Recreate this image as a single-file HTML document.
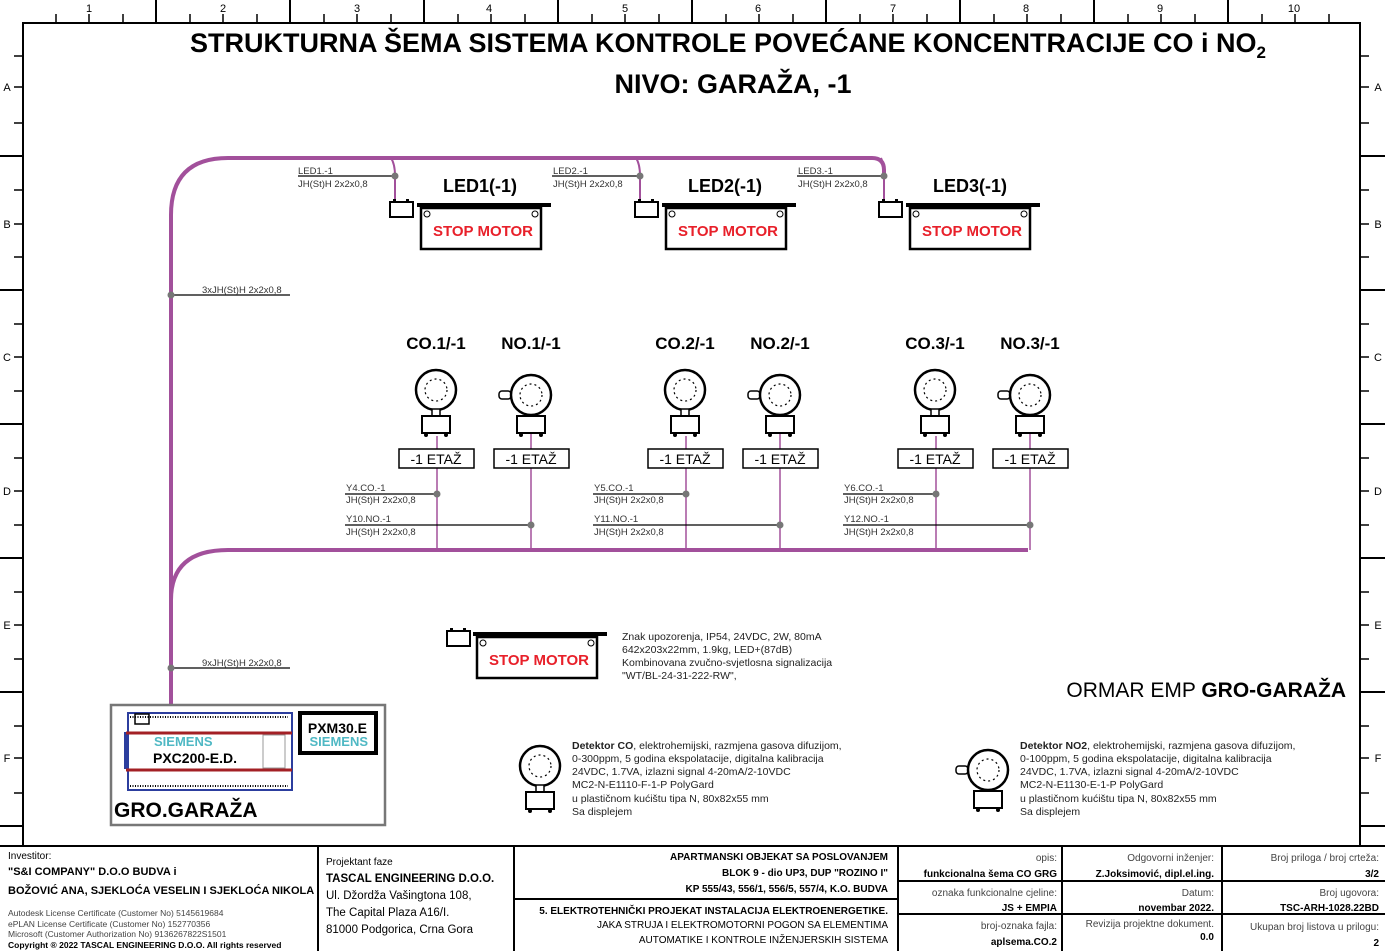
<!DOCTYPE html>
<html><head><meta charset="utf-8"><style>
html,body{margin:0;padding:0;background:#fff}
svg{display:block}
text{font-family:"Liberation Sans",sans-serif}
</style></head><body>
<svg width="1385" height="951" viewBox="0 0 1385 951" xmlns="http://www.w3.org/2000/svg">
<defs>
<g id="co">
<circle cx="0" cy="0" r="20" fill="#fff" stroke="#000" stroke-width="2.5"/>
<circle cx="0" cy="0" r="11" fill="none" stroke="#000" stroke-width="1.2" stroke-dasharray="2,3"/>
<rect x="-4" y="19" width="8" height="8" fill="#fff" stroke="#000" stroke-width="1.5"/>
<rect x="-14" y="26" width="28" height="17" fill="#fff" stroke="#000" stroke-width="2"/>
<circle cx="-10" cy="45" r="2" fill="#000"/><circle cx="10" cy="45" r="2" fill="#000"/>
</g>
<g id="no">
<rect x="-32" y="-4" width="12" height="8" rx="3" fill="#fff" stroke="#000" stroke-width="1.5"/>
<circle cx="0" cy="0" r="20" fill="#fff" stroke="#000" stroke-width="2.5"/>
<circle cx="0" cy="0" r="11" fill="none" stroke="#000" stroke-width="1.2" stroke-dasharray="2,3"/>
<rect x="-14" y="21" width="28" height="17" fill="#fff" stroke="#000" stroke-width="2"/>
<circle cx="-10" cy="40" r="2" fill="#000"/><circle cx="10" cy="40" r="2" fill="#000"/>
</g>
<g id="sign">
<rect x="0" y="0" width="134" height="4" fill="#000"/>
<rect x="4" y="5" width="120" height="41" fill="#fff" stroke="#000" stroke-width="2.5"/>
<circle cx="10" cy="11" r="3" fill="none" stroke="#000"/><circle cx="118" cy="11" r="3" fill="none" stroke="#000"/>
<text x="66" y="33" font-size="15" font-weight="bold" fill="#e8202a" text-anchor="middle">STOP MOTOR</text>
</g>
<g id="batt">
<rect x="0" y="0" width="23" height="15" fill="#fff" stroke="#000" stroke-width="2"/>
<rect x="3" y="-3" width="3" height="3" fill="#000"/><rect x="16" y="-3" width="3" height="3" fill="#000"/>
</g>
</defs>

<!-- frame -->
<rect x="23" y="23" width="1337" height="823" fill="none" stroke="#000" stroke-width="2"/>
<g stroke="#000" stroke-width="1.5">
<line x1="156" y1="0" x2="156" y2="23" stroke-width="2"/><line x1="290" y1="0" x2="290" y2="23" stroke-width="2"/>
<line x1="424" y1="0" x2="424" y2="23" stroke-width="2"/><line x1="558" y1="0" x2="558" y2="23" stroke-width="2"/>
<line x1="692" y1="0" x2="692" y2="23" stroke-width="2"/><line x1="826" y1="0" x2="826" y2="23" stroke-width="2"/>
<line x1="960" y1="0" x2="960" y2="23" stroke-width="2"/><line x1="1094" y1="0" x2="1094" y2="23" stroke-width="2"/>
<line x1="1228" y1="0" x2="1228" y2="23" stroke-width="2"/>
<line x1="56" y1="14" x2="56" y2="23"/><line x1="89" y1="14" x2="89" y2="23"/><line x1="123" y1="14" x2="123" y2="23"/>
<line x1="190" y1="14" x2="190" y2="23"/><line x1="223" y1="14" x2="223" y2="23"/><line x1="257" y1="14" x2="257" y2="23"/>
<line x1="324" y1="14" x2="324" y2="23"/><line x1="357" y1="14" x2="357" y2="23"/><line x1="391" y1="14" x2="391" y2="23"/>
<line x1="458" y1="14" x2="458" y2="23"/><line x1="491" y1="14" x2="491" y2="23"/><line x1="525" y1="14" x2="525" y2="23"/>
<line x1="592" y1="14" x2="592" y2="23"/><line x1="625" y1="14" x2="625" y2="23"/><line x1="659" y1="14" x2="659" y2="23"/>
<line x1="726" y1="14" x2="726" y2="23"/><line x1="759" y1="14" x2="759" y2="23"/><line x1="793" y1="14" x2="793" y2="23"/>
<line x1="860" y1="14" x2="860" y2="23"/><line x1="893" y1="14" x2="893" y2="23"/><line x1="927" y1="14" x2="927" y2="23"/>
<line x1="994" y1="14" x2="994" y2="23"/><line x1="1027" y1="14" x2="1027" y2="23"/><line x1="1061" y1="14" x2="1061" y2="23"/>
<line x1="1128" y1="14" x2="1128" y2="23"/><line x1="1161" y1="14" x2="1161" y2="23"/><line x1="1195" y1="14" x2="1195" y2="23"/>
<line x1="1262" y1="14" x2="1262" y2="23"/><line x1="1295" y1="14" x2="1295" y2="23"/><line x1="1329" y1="14" x2="1329" y2="23"/>
<!-- left/right ticks -->
<line x1="0" y1="156" x2="23" y2="156" stroke-width="2"/><line x1="0" y1="290" x2="23" y2="290" stroke-width="2"/>
<line x1="0" y1="424" x2="23" y2="424" stroke-width="2"/><line x1="0" y1="558" x2="23" y2="558" stroke-width="2"/>
<line x1="0" y1="692" x2="23" y2="692" stroke-width="2"/><line x1="0" y1="826" x2="23" y2="826" stroke-width="2"/>
<line x1="1360" y1="156" x2="1385" y2="156" stroke-width="2"/><line x1="1360" y1="290" x2="1385" y2="290" stroke-width="2"/>
<line x1="1360" y1="424" x2="1385" y2="424" stroke-width="2"/><line x1="1360" y1="558" x2="1385" y2="558" stroke-width="2"/>
<line x1="1360" y1="692" x2="1385" y2="692" stroke-width="2"/><line x1="1360" y1="826" x2="1385" y2="826" stroke-width="2"/>
<line x1="14" y1="56" x2="23" y2="56"/><line x1="14" y1="87" x2="23" y2="87"/><line x1="14" y1="123" x2="23" y2="123"/>
<line x1="14" y1="190" x2="23" y2="190"/><line x1="14" y1="224" x2="23" y2="224"/><line x1="14" y1="257" x2="23" y2="257"/>
<line x1="14" y1="324" x2="23" y2="324"/><line x1="14" y1="357" x2="23" y2="357"/><line x1="14" y1="391" x2="23" y2="391"/>
<line x1="14" y1="458" x2="23" y2="458"/><line x1="14" y1="491" x2="23" y2="491"/><line x1="14" y1="525" x2="23" y2="525"/>
<line x1="14" y1="592" x2="23" y2="592"/><line x1="14" y1="625" x2="23" y2="625"/><line x1="14" y1="659" x2="23" y2="659"/>
<line x1="14" y1="726" x2="23" y2="726"/><line x1="14" y1="758" x2="23" y2="758"/><line x1="14" y1="793" x2="23" y2="793"/>
<line x1="1360" y1="56" x2="1369" y2="56"/><line x1="1360" y1="87" x2="1369" y2="87"/><line x1="1360" y1="123" x2="1369" y2="123"/>
<line x1="1360" y1="190" x2="1369" y2="190"/><line x1="1360" y1="224" x2="1369" y2="224"/><line x1="1360" y1="257" x2="1369" y2="257"/>
<line x1="1360" y1="324" x2="1369" y2="324"/><line x1="1360" y1="357" x2="1369" y2="357"/><line x1="1360" y1="391" x2="1369" y2="391"/>
<line x1="1360" y1="458" x2="1369" y2="458"/><line x1="1360" y1="491" x2="1369" y2="491"/><line x1="1360" y1="525" x2="1369" y2="525"/>
<line x1="1360" y1="592" x2="1369" y2="592"/><line x1="1360" y1="625" x2="1369" y2="625"/><line x1="1360" y1="659" x2="1369" y2="659"/>
<line x1="1360" y1="726" x2="1369" y2="726"/><line x1="1360" y1="758" x2="1369" y2="758"/><line x1="1360" y1="793" x2="1369" y2="793"/>
</g>
<g font-size="11" text-anchor="middle" fill="#000">
<text x="89" y="12">1</text><text x="223" y="12">2</text><text x="357" y="12">3</text><text x="489" y="12">4</text><text x="625" y="12">5</text>
<text x="758" y="12">6</text><text x="893" y="12">7</text><text x="1026" y="12">8</text><text x="1160" y="12">9</text><text x="1294" y="12">10</text>
<text x="7" y="91">A</text><text x="7" y="228">B</text><text x="7" y="361">C</text><text x="7" y="495">D</text><text x="7" y="629">E</text><text x="7" y="762">F</text>
<text x="1378" y="91">A</text><text x="1378" y="228">B</text><text x="1378" y="361">C</text><text x="1378" y="495">D</text><text x="1378" y="629">E</text><text x="1378" y="762">F</text>
</g>

<!-- titles -->
<text x="728" y="52" font-size="27" font-weight="bold" text-anchor="middle">STRUKTURNA ŠEMA SISTEMA KONTROLE POVEĆANE KONCENTRACIJE CO i NO<tspan font-size="17" dy="6">2</tspan></text>
<text x="733" y="93" font-size="27" font-weight="bold" text-anchor="middle">NIVO: GARAŽA, -1</text>

<!-- magenta bus -->
<g fill="none" stroke="#a2509b">
<path d="M171,706 V215 Q171,158 228,158 H872 Q884,158 884,170 V176" stroke-width="4"/>
<path d="M171,600 Q171,550 228,550 H1028" stroke-width="4"/>
<path d="M391,158 Q395,164 395,176 V201" stroke-width="2"/>
<path d="M636,158 Q640,164 640,176 V201" stroke-width="2"/>
<path d="M881,158 Q884,164 884,176 V201" stroke-width="2"/>
<g stroke-width="1.5">
<line x1="437" y1="436" x2="437" y2="550"/><line x1="531" y1="433" x2="531" y2="550"/>
<line x1="686" y1="436" x2="686" y2="550"/><line x1="780" y1="433" x2="780" y2="550"/>
<line x1="936" y1="436" x2="936" y2="550"/><line x1="1030" y1="433" x2="1030" y2="550"/>
</g>
</g>

<!-- cable labels -->
<g stroke="#000" stroke-width="1.2">
<line x1="298" y1="176" x2="395" y2="176"/><line x1="552" y1="176" x2="640" y2="176"/><line x1="797" y1="176" x2="884" y2="176"/>
<line x1="171" y1="295" x2="290" y2="295"/><line x1="171" y1="668" x2="290" y2="668"/>
<line x1="345" y1="494" x2="437" y2="494"/><line x1="345" y1="525" x2="531" y2="525"/>
<line x1="593" y1="494" x2="686" y2="494"/><line x1="593" y1="525" x2="780" y2="525"/>
<line x1="843" y1="494" x2="936" y2="494"/><line x1="843" y1="525" x2="1030" y2="525"/>
</g>
<g fill="#777">
<circle cx="395" cy="176" r="3.5"/><circle cx="640" cy="176" r="3.5"/><circle cx="884" cy="176" r="3.5"/>
<circle cx="171" cy="295" r="3.5"/><circle cx="171" cy="668" r="3.5"/>
<circle cx="437" cy="494" r="3.5"/><circle cx="531" cy="525" r="3.5"/>
<circle cx="686" cy="494" r="3.5"/><circle cx="780" cy="525" r="3.5"/>
<circle cx="936" cy="494" r="3.5"/><circle cx="1030" cy="525" r="3.5"/>
</g>
<g font-size="9.5" fill="#333">
<text x="298" y="174">LED1.-1</text><text x="298" y="187">JH(St)H 2x2x0,8</text>
<text x="553" y="174">LED2.-1</text><text x="553" y="187">JH(St)H 2x2x0,8</text>
<text x="798" y="174">LED3.-1</text><text x="798" y="187">JH(St)H 2x2x0,8</text>
<text x="202" y="293">3xJH(St)H 2x2x0,8</text><text x="202" y="666">9xJH(St)H 2x2x0,8</text>
<text x="346" y="491">Y4.CO.-1</text><text x="346" y="503">JH(St)H 2x2x0,8</text>
<text x="346" y="522">Y10.NO.-1</text><text x="346" y="535">JH(St)H 2x2x0,8</text>
<text x="594" y="491">Y5.CO.-1</text><text x="594" y="503">JH(St)H 2x2x0,8</text>
<text x="594" y="522">Y11.NO.-1</text><text x="594" y="535">JH(St)H 2x2x0,8</text>
<text x="844" y="491">Y6.CO.-1</text><text x="844" y="503">JH(St)H 2x2x0,8</text>
<text x="844" y="522">Y12.NO.-1</text><text x="844" y="535">JH(St)H 2x2x0,8</text>
</g>

<!-- LEDs -->
<g font-size="18" font-weight="bold" text-anchor="middle">
<text x="480" y="192">LED1(-1)</text><text x="725" y="192">LED2(-1)</text><text x="970" y="192">LED3(-1)</text>
</g>
<use href="#batt" x="390" y="202"/><use href="#sign" x="417" y="203"/>
<use href="#batt" x="635" y="202"/><use href="#sign" x="662" y="203"/>
<use href="#batt" x="879" y="202"/><use href="#sign" x="906" y="203"/>

<!-- sensors -->
<g font-size="17" font-weight="bold" text-anchor="middle">
<text x="436" y="349">CO.1/-1</text><text x="531" y="349">NO.1/-1</text>
<text x="685" y="349">CO.2/-1</text><text x="780" y="349">NO.2/-1</text>
<text x="935" y="349">CO.3/-1</text><text x="1030" y="349">NO.3/-1</text>
</g>
<use href="#co" x="436" y="390"/><use href="#no" x="531" y="395"/>
<use href="#co" x="685" y="390"/><use href="#no" x="780" y="395"/>
<use href="#co" x="935" y="390"/><use href="#no" x="1030" y="395"/>
<g fill="#fff" stroke="#000" stroke-width="1.5">
<rect x="399" y="449" width="75" height="19"/><rect x="494" y="449" width="75" height="19"/>
<rect x="648" y="449" width="75" height="19"/><rect x="743" y="449" width="75" height="19"/>
<rect x="898" y="449" width="75" height="19"/><rect x="993" y="449" width="75" height="19"/>
</g>
<g font-size="14" text-anchor="middle">
<text x="436" y="464">-1 ETAŽ</text><text x="531" y="464">-1 ETAŽ</text>
<text x="685" y="464">-1 ETAŽ</text><text x="780" y="464">-1 ETAŽ</text>
<text x="935" y="464">-1 ETAŽ</text><text x="1030" y="464">-1 ETAŽ</text>
</g>

<!-- legend -->
<use href="#batt" x="447" y="631"/><use href="#sign" x="473" y="632"/>
<g font-size="10.5" fill="#222">
<text x="622" y="640">Znak upozorenja, IP54, 24VDC, 2W, 80mA</text>
<text x="622" y="653">642x203x22mm, 1.9kg, LED+(87dB)</text>
<text x="622" y="666">Kombinovana zvučno-svjetlosna signalizacija</text>
<text x="622" y="679">"WT/BL-24-31-222-RW",</text>
<text x="572" y="749"><tspan font-weight="bold">Detektor CO</tspan>, elektrohemijski, razmjena gasova difuzijom,</text>
<text x="572" y="762">0-300ppm, 5 godina ekspolatacije, digitalna kalibracija</text>
<text x="572" y="775">24VDC, 1.7VA, izlazni signal 4-20mA/2-10VDC</text>
<text x="572" y="788">MC2-N-E1110-F-1-P PolyGard</text>
<text x="572" y="802">u plastičnom kućištu tipa N, 80x82x55 mm</text>
<text x="572" y="815">Sa displejem</text>
<text x="1020" y="749"><tspan font-weight="bold">Detektor NO2</tspan>, elektrohemijski, razmjena gasova difuzijom,</text>
<text x="1020" y="762">0-100ppm, 5 godina ekspolatacije, digitalna kalibracija</text>
<text x="1020" y="775">24VDC, 1.7VA, izlazni signal 4-20mA/2-10VDC</text>
<text x="1020" y="788">MC2-N-E1130-E-1-P PolyGard</text>
<text x="1020" y="802">u plastičnom kućištu tipa N, 80x82x55 mm</text>
<text x="1020" y="815">Sa displejem</text>
</g>
<use href="#co" x="540" y="766"/><use href="#no" x="988" y="770"/>
<text x="1346" y="697" font-size="21" text-anchor="end">ORMAR EMP <tspan font-weight="bold">GRO-GARAŽA</tspan></text>

<!-- GRO box -->
<rect x="111" y="705" width="274" height="120" fill="#fff" stroke="#777" stroke-width="2.5"/>
<rect x="128" y="713" width="164" height="77" fill="#fff" stroke="#2c3e9e" stroke-width="2"/>
<rect x="124" y="732" width="5" height="37" fill="#2c3e9e"/>
<line x1="126" y1="733" x2="292" y2="733" stroke="#a32025" stroke-width="3"/>
<line x1="126" y1="770" x2="292" y2="770" stroke="#a32025" stroke-width="3"/>
<line x1="130" y1="717" x2="288" y2="717" stroke="#000" stroke-width="2" stroke-dasharray="1,1.5"/>
<line x1="130" y1="786" x2="288" y2="786" stroke="#000" stroke-width="2" stroke-dasharray="1,1.5"/>
<rect x="135" y="714" width="14" height="10" fill="none" stroke="#000" stroke-width="1.5"/>
<rect x="263" y="735" width="22" height="33" fill="none" stroke="#999"/>
<text x="154" y="746" font-size="13" font-weight="bold" fill="#4fb8c4">SIEMENS</text>
<text x="153" y="763" font-size="14" font-weight="bold">PXC200-E.D.</text>
<rect x="300" y="713" width="76" height="40" fill="#fff" stroke="#000" stroke-width="4"/>
<rect x="303" y="716" width="70" height="34" fill="none" stroke="#fff" stroke-width="1"/>
<text x="367" y="733" font-size="14" font-weight="bold" text-anchor="end">PXM30.E</text>
<text x="368" y="746" font-size="13" font-weight="bold" fill="#4fb8c4" text-anchor="end">SIEMENS</text>
<text x="114" y="817" font-size="21" font-weight="bold">GRO.GARAŽA</text>

<!-- title block -->
<g stroke="#000" stroke-width="2" fill="none">
<line x1="0" y1="846" x2="1385" y2="846"/>
<line x1="318" y1="846" x2="318" y2="951"/><line x1="514" y1="846" x2="514" y2="951"/>
<line x1="898" y1="846" x2="898" y2="951"/><line x1="1062" y1="846" x2="1062" y2="951"/><line x1="1222" y1="846" x2="1222" y2="951"/>
<line x1="514" y1="899" x2="898" y2="899"/>
<line x1="898" y1="881" x2="1385" y2="881"/><line x1="898" y1="914" x2="1385" y2="914"/>
</g>
<g font-size="10" fill="#000">
<text x="8" y="859">Investitor:</text>
<text x="8" y="875" font-size="11" font-weight="bold">"S&amp;I COMPANY" D.O.O BUDVA i</text>
<text x="8" y="894" font-size="11" font-weight="bold">BOŽOVIĆ ANA, SJEKLOĆA VESELIN I SJEKLOĆA NIKOLA</text>
<text x="8" y="916" font-size="8.5" fill="#444">Autodesk License Certificate (Customer No) 5145619684</text>
<text x="8" y="927" font-size="8.5" fill="#444">ePLAN License Certificate (Customer No) 152770356</text>
<text x="8" y="937" font-size="8.5" fill="#444">Microsoft (Customer Authorization No) 9136267822S1501</text>
<text x="8" y="948" font-size="8.5" font-weight="bold">Copyright ® 2022 TASCAL ENGINEERING D.O.O.  All rights reserved</text>
<text x="326" y="865">Projektant faze</text>
<text x="326" y="882" font-size="11.5" font-weight="bold">TASCAL ENGINEERING D.O.O.</text>
<text x="326" y="899" font-size="11.5">Ul. Džordža Vašingtona 108,</text>
<text x="326" y="916" font-size="11.5">The Capital Plaza A16/I.</text>
<text x="326" y="933" font-size="11.5">81000 Podgorica, Crna Gora</text>
</g>
<g font-size="10" text-anchor="end">
<text x="888" y="860" font-weight="bold">APARTMANSKI OBJEKAT SA POSLOVANJEM</text>
<text x="888" y="876" font-weight="bold">BLOK 9 - dio UP3, DUP "ROZINO I"</text>
<text x="888" y="892" font-weight="bold">KP 555/43, 556/1, 556/5, 557/4, K.O. BUDVA</text>
<text x="888" y="914" font-weight="bold">5. ELEKTROTEHNIČKI PROJEKAT INSTALACIJA ELEKTROENERGETIKE.</text>
<text x="888" y="928">JAKA STRUJA I ELEKTROMOTORNI POGON SA ELEMENTIMA</text>
<text x="888" y="943">AUTOMATIKE I KONTROLE INŽENJERSKIH SISTEMA</text>
<text x="1057" y="861" fill="#444">opis:</text>
<text x="1057" y="877" font-weight="bold">funkcionalna šema CO GRG</text>
<text x="1057" y="896" fill="#444">oznaka funkcionalne cjeline:</text>
<text x="1057" y="911" font-weight="bold">JS + EMPIA</text>
<text x="1057" y="929" fill="#444">broj-oznaka fajla:</text>
<text x="1057" y="945" font-weight="bold">aplsema.CO.2</text>
<text x="1214" y="861" fill="#444">Odgovorni inženjer:</text>
<text x="1214" y="877" font-weight="bold">Z.Joksimović, dipl.el.ing.</text>
<text x="1214" y="896" fill="#444">Datum:</text>
<text x="1214" y="911" font-weight="bold">novembar 2022.</text>
<text x="1214" y="927" fill="#444">Revizija projektne dokument.</text>
<text x="1214" y="940" font-weight="bold">0.0</text>
<text x="1379" y="861" fill="#444">Broj priloga / broj crteža:</text>
<text x="1379" y="877" font-weight="bold">3/2</text>
<text x="1379" y="896" fill="#444">Broj ugovora:</text>
<text x="1379" y="911" font-weight="bold">TSC-ARH-1028.22BD</text>
<text x="1379" y="930" fill="#444">Ukupan broj listova u prilogu:</text>
<text x="1379" y="946" font-weight="bold">2</text>
</g>
</svg>
</body></html>
